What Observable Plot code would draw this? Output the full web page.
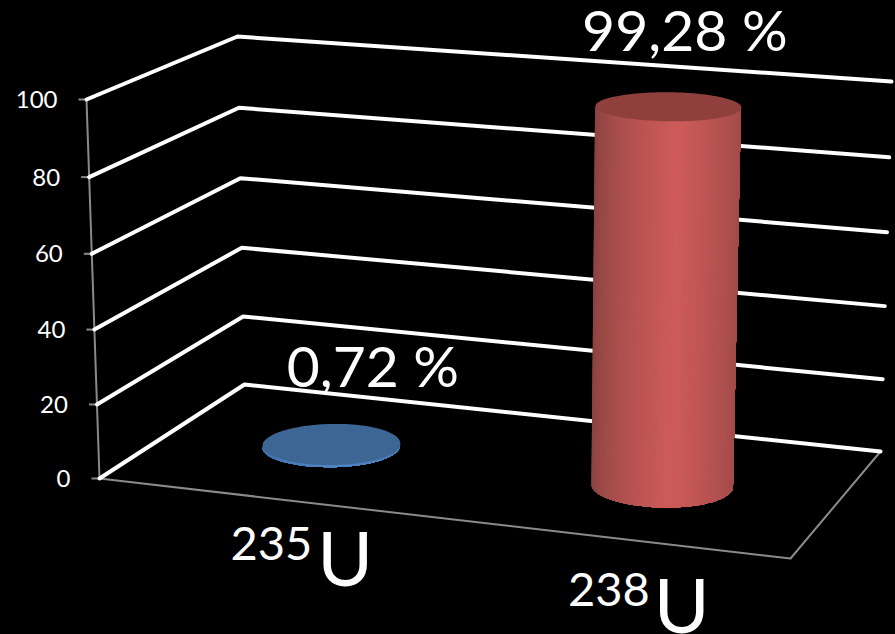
<!DOCTYPE html>
<html>
<head>
<meta charset="utf-8">
<script src="https://cdn.jsdelivr.net/npm/d3@7"></script>
<script src="https://cdn.jsdelivr.net/npm/@observablehq/plot@0.6"></script>
<style>
  html, body { margin: 0; padding: 0; background: #000; }
  svg { display: block; }
</style>
</head>
<body>
<div id="chart"></div>
<script>
// Natural uranium isotope abundance, in percent
const isotopes = ["235", "238"];
const abundance = [0.72, 99.28];
const abundanceLabels = ["0,72 %", "99,28 %"];
const valueTicks = [0, 20, 40, 60, 80, 100];
// Position of each column on the floor (0..1 along category and depth)
const categoryPositions = [0.237, 0.74];
const depthPositions = [0.52, 0.5];
const columnRadii = [0.096, 0.102];

// Screen frame of the 3D box: [category, depth, level] corners
const frame = {
  "000": [99, 478],  "100": [790, 558],
  "010": [244, 384], "110": [880, 451],
  "001": [86, 99],   "101": [802, 151],
  "011": [237, 36],  "111": [891, 81]
};
const lerp = (a, b, t) => a + (b - a) * t;
const mix = (a, b, t) => [lerp(a[0], b[0], t), lerp(a[1], b[1], t)];

// Projects category position u, depth d and value v to the drawing plane
function project(u, d, v) {
  const s = v / 100;
  const t = s / (1 + 0.03 * (1 - s));
  const level = l => mix(
    mix(frame["00" + l], frame["10" + l], u),
    mix(frame["01" + l], frame["11" + l], u),
    d
  );
  return mix(level(0), level(1), t);
}

// Gridlines run along the left wall and then the back wall
const grid = valueTicks.flatMap(v => [
  {v, p: project(0, 0, v)},
  {v, p: project(0, 1, v)},
  {v, p: project(1, 1, v)}
]);
const floorEdge = [project(0, 0, 0), project(1, 0, 0), project(1, 1, 0)];
const valueAxis = [project(0, 0, 0), project(0, 0, 100)];

// Cylinder geometry
const radiusDepth = 0.2, steps = 240;
const angles = d3.range(steps).map(i => i / steps * 2 * Math.PI);
const rimPoint = (k, t, v) => project(
  categoryPositions[k] + columnRadii[k] * Math.cos(t),
  depthPositions[k] + radiusDepth * Math.sin(t),
  v
);

// Front half of the cylinder wall, painted left to right: every band reaches the
// right silhouette and the next band covers it, so no seams open between bands
function sideSlices(k, v, dark, bright) {
  const xs = angles.map(t => rimPoint(k, t, 0)[0]);
  const [minX, maxX] = d3.extent(xs);
  const tLeft = angles[d3.minIndex(xs)];
  const tRight = angles[d3.maxIndex(xs)] + 2 * Math.PI;
  const count = 72;
  const ramp = d3.interpolateRgb(dark, bright);
  return d3.range(count).flatMap(i => {
    const mx = rimPoint(k, lerp(tLeft, tRight, (i + 0.5) / count), 0)[0];
    const s = (mx - minX) / (maxX - minX);
    const glow = Math.pow(Math.max(0, 1 - Math.abs(s - 0.56) / 0.56), 0.6);
    const fill = d3.rgb(ramp(glow)).formatHex();
    return d3.range(i, count + 1).map(j => {
      const t = lerp(tLeft, tRight, j / count);
      const b = rimPoint(k, t, 0), h = rimPoint(k, t, v);
      return {slice: i, fill, x1: b[0], y1: b[1], x2: h[0], y2: h[1]};
    });
  });
}

const sideColors = [["#3f6ea6", "#4f86c6"], ["#86423f", "#ce5b59"]];
const capColors = ["#3e6695", "#8f403d"];

const columnMarks = isotopes.flatMap((name, k) => {
  const v = abundance[k];
  const sides = sideSlices(k, v, sideColors[k][0], sideColors[k][1]);
  const cap = angles.map(t => rimPoint(k, t, v));
  return [
    Plot.area(sides, {x1: "x1", y1: "y1", x2: "x2", y2: "y2", z: "slice", fill: "fill"}),
    Plot.line(cap, {x: p => p[0], y: p => p[1], fill: capColors[k], stroke: "none"})
  ];
});

const labelFont = {fontFamily: "Lato, sans-serif", fill: "#fff"};

// Each percentage and category label sits at its own offset from its column
const percentOffsets = [{dx: 41, dy: -76}, {dx: 16, dy: -74}];
const massOffsets = [{dx: 49, dy: 47}, {dx: 39, dy: 53}];
const symbolOffsets = [{dx: 54, dy: 64}, {dx: 43, dy: 71}];

const labelMarks = isotopes.flatMap((name, k) => {
  const u = categoryPositions[k];
  const [tx, ty] = project(u, depthPositions[k], abundance[k]);
  const [fx, fy] = project(u, 0, 0);
  return [
    Plot.text([abundanceLabels[k]], {x: () => tx, y: () => ty, text: d => d, fontSize: 57, ...percentOffsets[k], ...labelFont}),
    Plot.text([name], {x: () => fx, y: () => fy, text: d => d, textAnchor: "end", fontSize: 47, ...massOffsets[k], ...labelFont}),
    Plot.text(["U"], {x: () => fx, y: () => fy, text: d => d, textAnchor: "start", fontSize: 76, ...symbolOffsets[k], ...labelFont})
  ];
});

const chart = Plot.plot({
  width: 895,
  height: 634,
  margin: 0,
  style: {background: "#000"},
  x: {domain: [0, 895], range: [0, 895], axis: null},
  y: {domain: [0, 634], range: [0, 634], axis: null},
  color: {type: "identity"},
  marks: [
    // Value axis with its tick marks
    Plot.line(valueAxis, {x: p => p[0], y: p => p[1], stroke: "#8a8a8a", strokeWidth: 2}),
    Plot.link(valueTicks, {
      x1: v => project(0, 0, v)[0] - 8,
      x2: v => project(0, 0, v)[0],
      y1: v => project(0, 0, v)[1],
      y2: v => project(0, 0, v)[1],
      stroke: "#8a8a8a",
      strokeWidth: 2
    }),
    Plot.line(floorEdge, {x: p => p[0], y: p => p[1], stroke: "#8a8a8a", strokeWidth: 2}),
    // Wall gridlines
    Plot.line(grid, {
      x: d => d.p[0], y: d => d.p[1], z: "v",
      stroke: "#fff", strokeWidth: 4, strokeLinejoin: "round", strokeLinecap: "round"
    }),
    ...columnMarks,
    // Value axis labels
    Plot.text(valueTicks, {
      x: v => project(0, 0, v)[0],
      y: v => project(0, 0, v)[1],
      text: v => String(v),
      textAnchor: "end",
      dx: -29,
      dy: 1,
      fontSize: 24,
      ...labelFont
    }),
    ...labelMarks
  ]
});
document.getElementById("chart").append(chart);
</script>
</body>
</html>
